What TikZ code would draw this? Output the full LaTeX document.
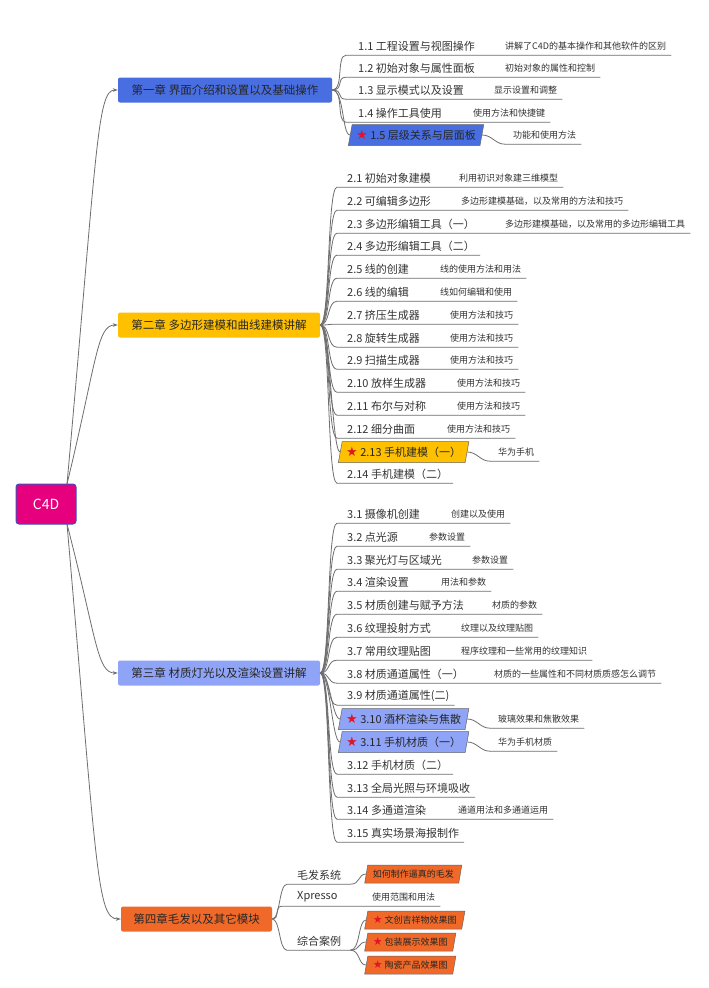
\documentclass[tikz,border=0pt]{standalone}
\usepackage{fontspec}
\newfontfamily\cjk{Noto Sans CJK SC}
\newfontfamily\symb{DejaVu Sans}
\usepackage{xcolor}
\usepackage{tikz}
\usetikzlibrary{arrows.meta,shapes.geometric}
\definecolor{rootpink}{RGB}{230,0,126}
\definecolor{rootedge}{RGB}{60,80,190}
\definecolor{chone}{RGB}{72,110,225}
\definecolor{chtwo}{RGB}{255,192,0}
\definecolor{chthree}{RGB}{143,164,246}
\definecolor{chfour}{RGB}{240,105,40}
\definecolor{starred}{RGB}{225,20,40}
\definecolor{linegray}{RGB}{110,110,110}
\newcommand{\redstar}[1]{{\symb\fontsize{#1}{#1}\selectfont\color{starred}★}}

\begin{document}
\begin{tikzpicture}[x=1pt,y=-1pt,
  rootbox/.style={rectangle,rounded corners=3pt,fill=rootpink,draw=rootedge,line width=1pt,minimum width=60,minimum height=40,text=white,font=\cjk\fontsize{14}{16}\selectfont},
  chapbox/.style={rectangle,rounded corners=2pt,minimum height=25,inner sep=0pt,text=black!85,font=\cjk\fontsize{11.5}{13}\selectfont},
  subitem/.style={anchor=west,inner sep=0pt,minimum height=18,text=black!80,font=\cjk\fontsize{11}{13}\selectfont},
  subnote/.style={anchor=west,inner sep=0pt,minimum height=18,text=black!80,font=\cjk\fontsize{9}{11}\selectfont},
  hotbox/.style={trapezium,trapezium left angle=70,trapezium right angle=110,trapezium stretches body=true,anchor=west,draw=black!60,line width=0.5pt,minimum height=21,inner xsep=4pt,inner ysep=0pt,text=black!85,font=\cjk\fontsize{11}{13}\selectfont},
  hotsmall/.style={hotbox,fill=chfour,minimum height=18,inner xsep=5pt,font=\cjk\fontsize{9}{11}\selectfont},
  linkline/.style={draw=linegray,line width=0.8pt},
  arrowline/.style={linkline,-{Stealth[length=5pt,width=3.5pt]}}]
\fill[white](0,0)rectangle(709,988);

\node[rootbox](c4d)at(46,504){C4D};
\coordinate(rtop)at(67,484);
\coordinate(rbot)at(67,524);

\node[chapbox,fill=chone,minimum width=214](ch1)at(225,90){第一章 界面介绍和设置以及基础操作};
\node[chapbox,fill=chtwo,minimum width=202](ch2)at(219,325){第二章 多边形建模和曲线建模讲解};
\node[chapbox,fill=chthree,minimum width=202](ch3)at(219,673){第三章 材质灯光以及渲染设置讲解};
\node[chapbox,fill=chfour,minimum width=151](ch4)at(196.5,919){第四章毛发以及其它模块};

\draw[arrowline](rtop)..controls(97,150)and(97,90)..(ch1.west);
\draw[arrowline](rtop)..controls(97,360)and(97,325)..(ch2.west);
\draw[arrowline](rbot)..controls(97,640)and(97,673)..(ch3.west);
\draw[arrowline](rbot)..controls(97,870)and(97,919)..(ch4.west);

% chapter 1
\node[subitem](s11)at(358,46){1.1 工程设置与视图操作};
\node[subnote](d11)at(505,46){讲解了C4D的基本操作和其他软件的区别};
\node[subitem](s12)at(358,68){1.2 初始对象与属性面板};
\node[subnote](d12)at(505,68){初始对象的属性和控制};
\node[subitem](s13)at(358,90){1.3 显示模式以及设置};
\node[subnote](d13)at(494,90){显示设置和调整};
\node[subitem](s14)at(358,113){1.4 操作工具使用};
\node[subnote](d14)at(473,113){使用方法和快捷键};
\node[hotbox,fill=chone](s15)at(350,135){\redstar{13} 1.5 层级关系与层面板};
\node[subnote](d15)at(513,135){功能和使用方法};
\draw[linkline](ch1.east)..controls+(12,0)and+(-10,0)..([xshift=-12pt]s11.south west)--([xshift=5pt]d11.south east);
\draw[linkline](ch1.east)..controls+(12,0)and+(-10,0)..([xshift=-12pt]s12.south west)--([xshift=5pt]d12.south east);
\draw[linkline](ch1.east)..controls+(12,0)and+(-10,0)..([xshift=-12pt]s13.south west)--([xshift=5pt]d13.south east);
\draw[linkline](ch1.east)..controls+(12,0)and+(-10,0)..([xshift=-12pt]s14.south west)--([xshift=5pt]d14.south east);
\draw[linkline](ch1.east)..controls+(12,0)and+(-8,0)..(s15.west);
\draw[linkline](s15.east)..controls+(10,0)and+(-10,0)..([xshift=-8pt]d15.south west)--([xshift=5pt]d15.south east);

% chapter 2
\node[subitem](s21)at(347,178){2.1 初始对象建模};
\node[subnote](d21)at(459,178){利用初识对象建三维模型};
\node[subitem](s22)at(347,201){2.2 可编辑多边形};
\node[subnote](d22)at(461,201){多边形建模基础，以及常用的方法和技巧};
\node[subitem](s23)at(347,224){2.3 多边形编辑工具（一）};
\node[subnote](d23)at(505,224){多边形建模基础，以及常用的多边形编辑工具};
\node[subitem](s24)at(347,246){2.4 多边形编辑工具（二）};
\node[subitem](s25)at(347,269){2.5 线的创建};
\node[subnote](d25)at(440,269){线的使用方法和用法};
\node[subitem](s26)at(347,292){2.6 线的编辑};
\node[subnote](d26)at(440,292){线如何编辑和使用};
\node[subitem](s27)at(347,315){2.7 挤压生成器};
\node[subnote](d27)at(450,315){使用方法和技巧};
\node[subitem](s28)at(347,338){2.8 旋转生成器};
\node[subnote](d28)at(450,338){使用方法和技巧};
\node[subitem](s29)at(347,360){2.9 扫描生成器};
\node[subnote](d29)at(450,360){使用方法和技巧};
\node[subitem](s210)at(347,383){2.10 放样生成器};
\node[subnote](d210)at(457,383){使用方法和技巧};
\node[subitem](s211)at(347,406){2.11 布尔与对称};
\node[subnote](d211)at(457,406){使用方法和技巧};
\node[subitem](s212)at(347,429){2.12 细分曲面};
\node[subnote](d212)at(447,429){使用方法和技巧};
\node[hotbox,fill=chtwo](s213)at(340,452){\redstar{13} 2.13 手机建模（一）};
\node[subnote](d213)at(498,452){华为手机};
\node[subitem](s214)at(347,474){2.14 手机建模（二）};
\draw[linkline](ch2.east)..controls+(10,0)and+(-10,0)..([xshift=-10pt]s21.south west)--([xshift=5pt]d21.south east);
\draw[linkline](ch2.east)..controls+(10,0)and+(-10,0)..([xshift=-10pt]s22.south west)--([xshift=5pt]d22.south east);
\draw[linkline](ch2.east)..controls+(10,0)and+(-10,0)..([xshift=-10pt]s23.south west)--([xshift=5pt]d23.south east);
\draw[linkline](ch2.east)..controls+(10,0)and+(-10,0)..([xshift=-10pt]s24.south west)--([xshift=5pt]s24.south east);
\draw[linkline](ch2.east)..controls+(10,0)and+(-10,0)..([xshift=-10pt]s25.south west)--([xshift=5pt]d25.south east);
\draw[linkline](ch2.east)..controls+(10,0)and+(-10,0)..([xshift=-10pt]s26.south west)--([xshift=5pt]d26.south east);
\draw[linkline](ch2.east)..controls+(10,0)and+(-10,0)..([xshift=-10pt]s27.south west)--([xshift=5pt]d27.south east);
\draw[linkline](ch2.east)..controls+(10,0)and+(-10,0)..([xshift=-10pt]s28.south west)--([xshift=5pt]d28.south east);
\draw[linkline](ch2.east)..controls+(10,0)and+(-10,0)..([xshift=-10pt]s29.south west)--([xshift=5pt]d29.south east);
\draw[linkline](ch2.east)..controls+(10,0)and+(-10,0)..([xshift=-10pt]s210.south west)--([xshift=5pt]d210.south east);
\draw[linkline](ch2.east)..controls+(10,0)and+(-10,0)..([xshift=-10pt]s211.south west)--([xshift=5pt]d211.south east);
\draw[linkline](ch2.east)..controls+(10,0)and+(-10,0)..([xshift=-10pt]s212.south west)--([xshift=5pt]d212.south east);
\draw[linkline](ch2.east)..controls+(10,0)and+(-8,0)..(s213.west);
\draw[linkline](s213.east)..controls+(10,0)and+(-10,0)..([xshift=-8pt]d213.south west)--([xshift=5pt]d213.south east);
\draw[linkline](ch2.east)..controls+(10,0)and+(-10,0)..([xshift=-10pt]s214.south west)--([xshift=5pt]s214.south east);

% chapter 3
\node[subitem](s31)at(347,514){3.1 摄像机创建};
\node[subnote](d31)at(451,514){创建以及使用};
\node[subitem](s32)at(347,537){3.2 点光源};
\node[subnote](d32)at(429,537){参数设置};
\node[subitem](s33)at(347,560){3.3 聚光灯与区域光};
\node[subnote](d33)at(472,560){参数设置};
\node[subitem](s34)at(347,582){3.4 渲染设置};
\node[subnote](d34)at(441,582){用法和参数};
\node[subitem](s35)at(347,605){3.5 材质创建与赋予方法};
\node[subnote](d35)at(492,605){材质的参数};
\node[subitem](s36)at(347,628){3.6 纹理投射方式};
\node[subnote](d36)at(461,628){纹理以及纹理贴图};
\node[subitem](s37)at(347,651){3.7 常用纹理贴图};
\node[subnote](d37)at(461,651){程序纹理和一些常用的纹理知识};
\node[subitem](s38)at(347,674){3.8 材质通道属性（一）};
\node[subnote](d38)at(494,674){材质的一些属性和不同材质质感怎么调节};
\node[subitem](s39)at(347,696){3.9 材质通道属性(二)};
\node[hotbox,fill=chthree](s310)at(340,719){\redstar{13} 3.10 酒杯渲染与焦散};
\node[subnote](d310)at(498,719){玻璃效果和焦散效果};
\node[hotbox,fill=chthree](s311)at(340,742){\redstar{13} 3.11 手机材质（一）};
\node[subnote](d311)at(498,742){华为手机材质};
\node[subitem](s312)at(347,765){3.12 手机材质（二）};
\node[subitem](s313)at(347,788){3.13 全局光照与环境吸收};
\node[subitem](s314)at(347,810){3.14 多通道渲染};
\node[subnote](d314)at(458,810){通道用法和多通道运用};
\node[subitem](s315)at(347,833){3.15 真实场景海报制作};
\draw[linkline](ch3.east)..controls+(10,0)and+(-10,0)..([xshift=-10pt]s31.south west)--([xshift=5pt]d31.south east);
\draw[linkline](ch3.east)..controls+(10,0)and+(-10,0)..([xshift=-10pt]s32.south west)--([xshift=5pt]d32.south east);
\draw[linkline](ch3.east)..controls+(10,0)and+(-10,0)..([xshift=-10pt]s33.south west)--([xshift=5pt]d33.south east);
\draw[linkline](ch3.east)..controls+(10,0)and+(-10,0)..([xshift=-10pt]s34.south west)--([xshift=5pt]d34.south east);
\draw[linkline](ch3.east)..controls+(10,0)and+(-10,0)..([xshift=-10pt]s35.south west)--([xshift=5pt]d35.south east);
\draw[linkline](ch3.east)..controls+(10,0)and+(-10,0)..([xshift=-10pt]s36.south west)--([xshift=5pt]d36.south east);
\draw[linkline](ch3.east)..controls+(10,0)and+(-10,0)..([xshift=-10pt]s37.south west)--([xshift=5pt]d37.south east);
\draw[linkline](ch3.east)..controls+(10,0)and+(-10,0)..([xshift=-10pt]s38.south west)--([xshift=5pt]d38.south east);
\draw[linkline](ch3.east)..controls+(10,0)and+(-10,0)..([xshift=-10pt]s39.south west)--([xshift=5pt]s39.south east);
\draw[linkline](ch3.east)..controls+(10,0)and+(-8,0)..(s310.west);
\draw[linkline](s310.east)..controls+(10,0)and+(-10,0)..([xshift=-8pt]d310.south west)--([xshift=5pt]d310.south east);
\draw[linkline](ch3.east)..controls+(10,0)and+(-8,0)..(s311.west);
\draw[linkline](s311.east)..controls+(10,0)and+(-10,0)..([xshift=-8pt]d311.south west)--([xshift=5pt]d311.south east);
\draw[linkline](ch3.east)..controls+(10,0)and+(-10,0)..([xshift=-10pt]s312.south west)--([xshift=5pt]s312.south east);
\draw[linkline](ch3.east)..controls+(10,0)and+(-10,0)..([xshift=-10pt]s313.south west)--([xshift=5pt]s313.south east);
\draw[linkline](ch3.east)..controls+(10,0)and+(-10,0)..([xshift=-10pt]s314.south west)--([xshift=5pt]d314.south east);
\draw[linkline](ch3.east)..controls+(10,0)and+(-10,0)..([xshift=-10pt]s315.south west)--([xshift=5pt]s315.south east);

% chapter 4
\node[subitem](s41)at(297,875){毛发系统};
\node[hotsmall](h41)at(366,874){如何制作逼真的毛发};
\node[subitem](s42)at(297,897){Xpresso};
\node[subnote](d42)at(372,897){使用范围和用法};
\node[subitem](s43)at(297,941){综合案例};
\node[hotsmall](h43)at(366,920){\redstar{11} 文创吉祥物效果图};
\node[hotsmall](h44)at(366,942){\redstar{11} 包装展示效果图};
\node[hotsmall](h45)at(366,965){\redstar{11} 陶瓷产品效果图};
\draw[linkline](ch4.east)..controls+(8,0)and+(-8,0)..([xshift=-10pt]s41.south west)--([xshift=9pt]s41.south east)..controls+(10,0)and+(-8,0)..(h41.west);
\draw[linkline](ch4.east)..controls+(8,0)and+(-8,0)..([xshift=-15pt]s42.south west)--([xshift=5pt]d42.south east);
\draw[linkline](ch4.east)..controls+(8,0)and+(-8,0)..([xshift=-10pt]s43.south west)--([xshift=9pt]s43.south east);
\draw[linkline]([xshift=9pt]s43.south east)..controls+(10,0)and+(-8,0)..(h43.west);
\draw[linkline]([xshift=9pt]s43.south east)..controls+(10,0)and+(-8,0)..(h44.west);
\draw[linkline]([xshift=9pt]s43.south east)..controls+(10,0)and+(-8,0)..(h45.west);
\end{tikzpicture}
\end{document}
